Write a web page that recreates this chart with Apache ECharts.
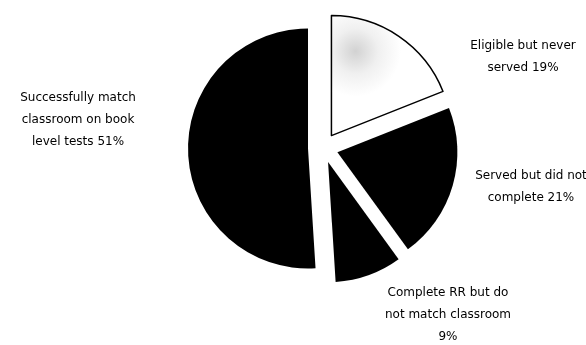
<!DOCTYPE html>
<html>
<head>
<meta charset="utf-8">
<script src="https://cdn.jsdelivr.net/npm/echarts@6/dist/echarts.min.js"></script>
<style>
  html, body { margin: 0; padding: 0; background: #fff; }
  #chart { width: 586px; height: 345px; }
</style>
</head>
<body>
<div id="chart"></div>
<script>
// Reading Recovery outcomes, clockwise from 12 o'clock
const categories = [
  'Eligible but never\nserved ',
  'Served but did not\ncomplete ',
  'Complete RR but do\nnot match classroom\n',
  'Successfully match\nclassroom on book\nlevel tests '
];
const shares = [19, 21, 9, 51];

// Label anchor points (top-centre of each text block)
const labelAnchors = [
  [523, 35],
  [531, 165],
  [448, 282],
  [78, 87]
];

const eligibleFill = {
  type: 'radial', x: 0.22, y: 0.3, r: 0.4,
  colorStops: [
    { offset: 0, color: '#d2d2d2' },
    { offset: 0.5, color: '#f0f0f0' },
    { offset: 1, color: '#ffffff' }
  ]
};

const chart = echarts.init(document.getElementById('chart'), null, { renderer: 'canvas' });
chart.setOption({
  animation: false,
  backgroundColor: '#ffffff',
  graphic: categories.map((name, i) => ({
    type: 'text',
    x: labelAnchors[i][0],
    y: labelAnchors[i][1],
    silent: true,
    style: {
      text: name + shares[i] + '%',
      fill: '#000',
      font: '12px "DejaVu Sans"',
      lineHeight: 22,
      align: 'center',
      verticalAlign: 'top'
    }
  })),
  series: [{
    type: 'pie',
    center: [323, 148],
    radius: [0, 120],
    startAngle: 90,
    clockwise: true,
    selectedMode: 'multiple',
    selectedOffset: 15,
    label: { show: false },
    labelLine: { show: false },
    emphasis: { disabled: true },
    data: categories.map((name, i) => ({
      name,
      value: shares[i],
      selected: true,
      itemStyle: i === 0
        ? { color: eligibleFill, borderColor: '#000', borderWidth: 1.5 }
        : { color: '#000', borderColor: '#000', borderWidth: 0 }
    }))
  }]
});
</script>
</body>
</html>
